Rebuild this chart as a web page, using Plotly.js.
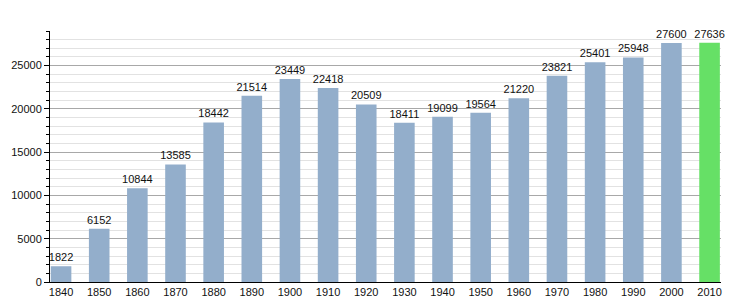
<!DOCTYPE html>
<html>
<head>
<meta charset="utf-8">
<script src="https://cdn.plot.ly/plotly-3.0.1.min.js"></script>
<style>html,body{margin:0;padding:0;background:#fff;}#chart{width:750px;height:300px;}</style>
</head>
<body>
<div id="chart"></div>
<script>
const years = ["1840","1850","1860","1870","1880","1890","1900","1910","1920","1930","1940","1950","1960","1970","1980","1990","2000","2010"];
const population = [1822,6152,10844,13585,18442,21514,23449,22418,20509,18411,19099,19564,21220,23821,25401,25948,27600,27636];
const barColors = ["#93aecb","#93aecb","#93aecb","#93aecb","#93aecb","#93aecb","#93aecb","#93aecb","#93aecb","#93aecb","#93aecb","#93aecb","#93aecb","#93aecb","#93aecb","#93aecb","#93aecb","#66e066"];

const trace = {
  type: 'bar',
  x: years,
  y: population,
  width: 0.54,
  marker: {color: barColors, line: {width: 0}},
  text: population.map(String),
  textposition: 'outside',
  constraintext: 'none',
  textfont: {family: 'Liberation Sans, Arial, sans-serif', size: 11, color: '#111'},
  cliponaxis: false,
  hoverinfo: 'none'
};

const layout = {
  width: 750, height: 300,
  margin: {l: 50, r: 29, t: 31, b: 18},
  paper_bgcolor: '#fff', plot_bgcolor: '#fff',
  showlegend: false,
  font: {family: 'Liberation Sans, Arial, sans-serif', size: 11, color: '#111'},
  xaxis: {
    type: 'category',
    range: [-0.29, 17.3],
    showline: true, linecolor: '#000', linewidth: 1,
    showgrid: false, ticks: '', ticklen: 0,
    tickfont: {size: 11, color: '#111'},
    fixedrange: true
  },
  yaxis: {
    range: [0, 29000],
    dtick: 5000, tick0: 0,
    tickformat: 'd',
    showline: true, linecolor: '#000', linewidth: 1,
    showgrid: true, gridcolor: '#a8a8a8', gridwidth: 1,
    zeroline: false,
    ticks: 'outside', ticklen: 5, tickcolor: '#000',
    tickfont: {size: 11, color: '#111'},
    minor: {dtick: 1000, showgrid: true, gridcolor: '#e2e2e2', gridwidth: 1, ticks: 'outside', ticklen: 3, tickcolor: '#000'},
    fixedrange: true
  },
  bargap: 0.46
};

Plotly.newPlot('chart', [trace], layout, {staticPlot: true, displayModeBar: false});
</script>
</body>
</html>
